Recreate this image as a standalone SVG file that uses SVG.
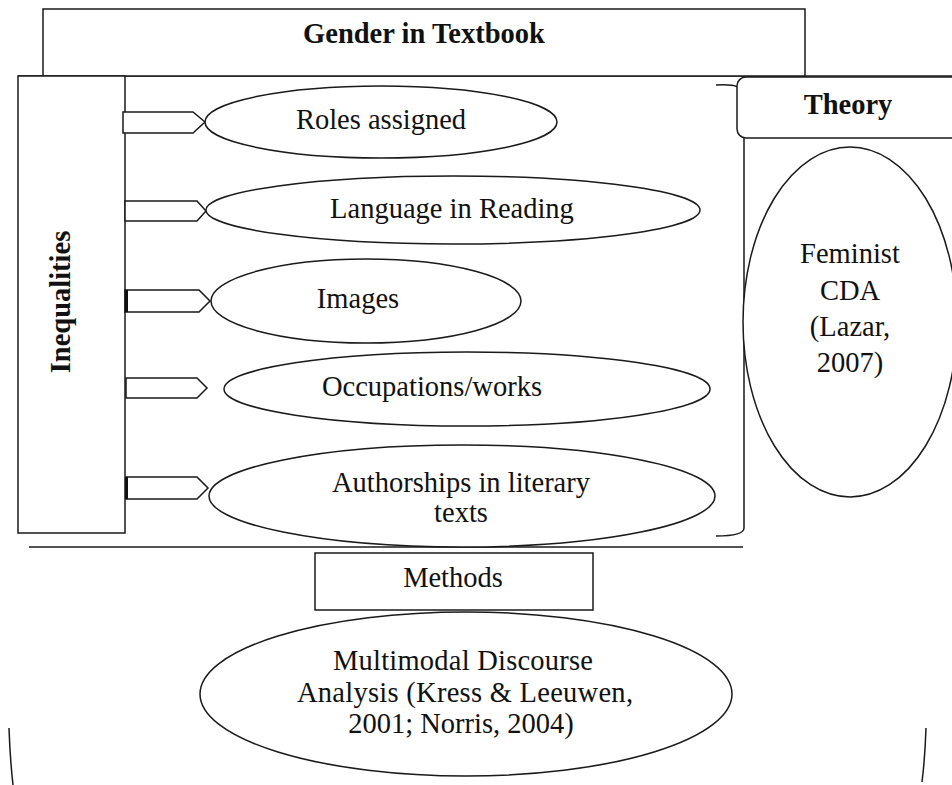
<svg xmlns="http://www.w3.org/2000/svg" width="952" height="785" viewBox="0 0 952 785">
<style>
.s{fill:#fff;stroke:#1a1a1a;stroke-width:1.5}
.l{fill:none;stroke:#1a1a1a;stroke-width:1.5}
text{font-family:"Liberation Serif","Times New Roman",serif;font-size:28.5px;fill:#111;text-anchor:middle}
.b{font-weight:bold}
</style>
<rect width="952" height="785" fill="#fff"/>
<g id="frame">
<line class="l" x1="18" y1="76" x2="952" y2="76"/>
<path class="l" d="M716,85 Q741,83 744,93 L744,528 Q744,536 716,536"/>
<line class="l" x1="29" y1="547" x2="743" y2="547"/>
<path class="l" d="M9,728 Q10,758 13,785"/>
<path class="l" d="M926,728 Q925,758 922,782"/>
</g>
<g id="gender">
<rect class="s" x="43" y="9" width="762" height="67"/>
<text class="b" x="424" y="43">Gender in Textbook</text>
</g>
<g id="inequalities">
<rect class="s" x="18" y="76" width="107" height="457"/>
<text class="b" transform="translate(70,302) rotate(-90)">Inequalities</text>
</g>
<g id="connectors">
<path class="s" d="M123,112 H193 L205,122 L193,133 H123 Z"/>
<path class="s" d="M125,201 H197 L206,211 L197,221 H125 Z"/>
<path class="s" d="M125,290 H199 L210,301 L199,312 H125 Z"/>
<path class="s" d="M126,378 H197 L207,388 L197,398 H126 Z"/>
<path class="s" d="M126,477 H197 L208,488 L197,499 H126 Z"/>
<line x1="126.5" y1="290" x2="126.5" y2="312" stroke="#111" stroke-width="3"/>
<line x1="126.5" y1="477" x2="126.5" y2="499" stroke="#111" stroke-width="3"/>
</g>
<g id="roles">
<ellipse class="s" cx="381" cy="122" rx="176" ry="36"/>
<text x="381" y="129">Roles assigned</text>
</g>
<g id="language">
<ellipse class="s" cx="453" cy="210" rx="247" ry="34"/>
<text x="452" y="218">Language in Reading</text>
</g>
<g id="images">
<ellipse class="s" cx="366" cy="301" rx="155" ry="42"/>
<text x="358" y="308">Images</text>
</g>
<g id="occupations">
<ellipse class="s" cx="467" cy="389" rx="243" ry="37"/>
<text x="432" y="396">Occupations/works</text>
</g>
<g id="authorships">
<ellipse class="s" cx="462" cy="496" rx="253" ry="51"/>
<text x="461" y="492">Authorships in literary</text>
<text x="461" y="522">texts</text>
</g>
<g id="feminist">
<ellipse class="s" cx="850" cy="322" rx="107" ry="175"/>
<text x="850" y="263">Feminist</text>
<text x="850" y="300">CDA</text>
<text x="850" y="336">(Lazar,</text>
<text x="850" y="372">2007)</text>
</g>
<g id="theory">
<rect class="s" x="737" y="77" width="230" height="61" rx="9"/>
<text class="b" x="848" y="114">Theory</text>
</g>
<g id="methods">
<rect class="s" x="315" y="553" width="278" height="57"/>
<text x="453" y="587">Methods</text>
</g>
<g id="multimodal">
<ellipse class="s" cx="466" cy="694" rx="266" ry="82"/>
<text x="463" y="670" textLength="260" lengthAdjust="spacing">Multimodal Discourse</text>
<text x="465" y="702" textLength="336" lengthAdjust="spacing">Analysis (Kress &amp; Leeuwen,</text>
<text x="461" y="733">2001; Norris, 2004)</text>
</g>
</svg>
